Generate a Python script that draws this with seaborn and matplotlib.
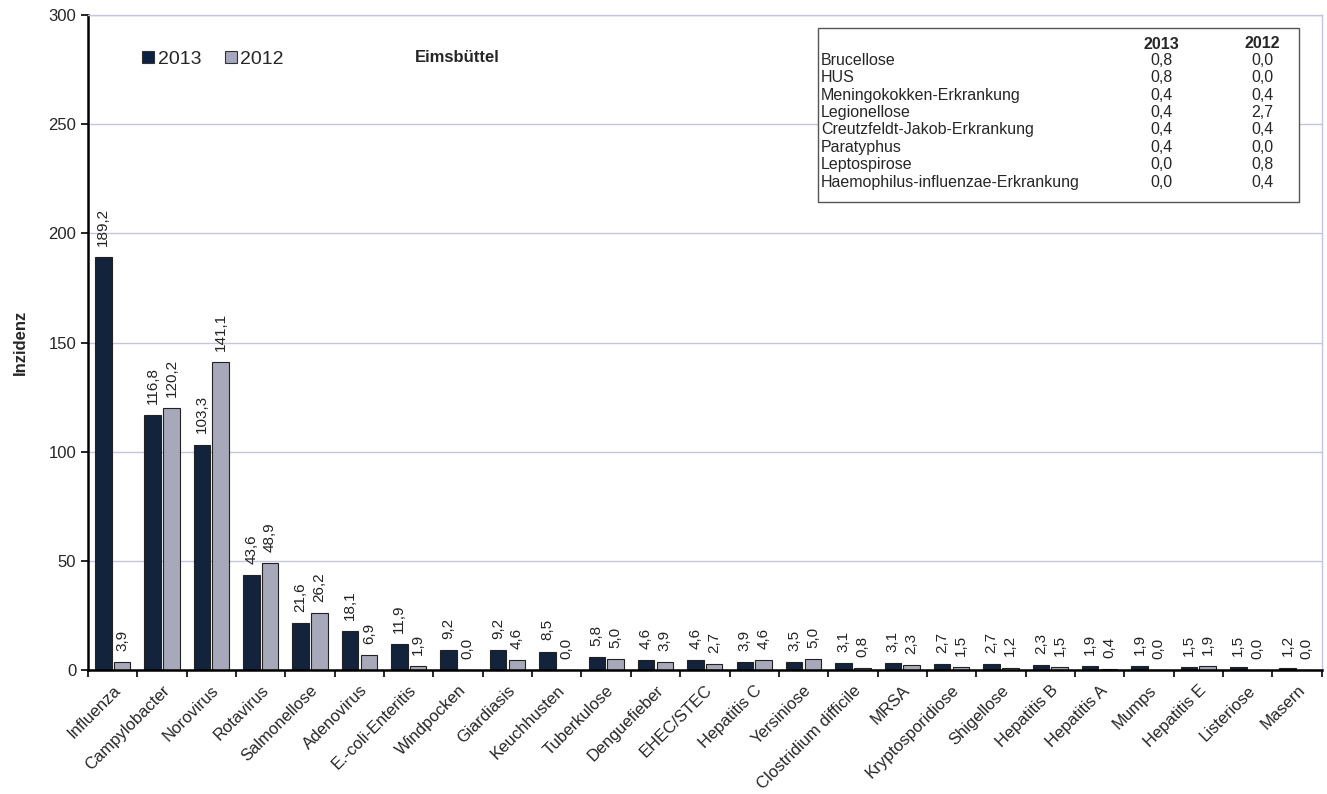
import pandas as pd
import matplotlib.pyplot as plt
import seaborn as sns
from matplotlib.patches import Rectangle
from matplotlib.ticker import FixedLocator

# Daten (Inzidenz je 100.000)
krankheiten = ['Influenza', 'Campylobacter', 'Norovirus', 'Rotavirus', 'Salmonellose',
               'Adenovirus', 'E.-coli-Enteritis', 'Windpocken', 'Giardiasis', 'Keuchhusten',
               'Tuberkulose', 'Denguefieber', 'EHEC/STEC', 'Hepatitis C', 'Yersiniose',
               'Clostridium difficile', 'MRSA', 'Kryptosporidiose', 'Shigellose', 'Hepatitis B',
               'Hepatitis A', 'Mumps', 'Hepatitis E', 'Listeriose', 'Masern']
werte_2013 = [189.2, 116.8, 103.3, 43.6, 21.6, 18.1, 11.9, 9.2, 9.2, 8.5,
              5.8, 4.6, 4.6, 3.9, 3.5, 3.1, 3.1, 2.7, 2.7, 2.3,
              1.9, 1.9, 1.5, 1.5, 1.2]
werte_2012 = [3.9, 120.2, 141.1, 48.9, 26.2, 6.9, 1.9, 0.0, 4.6, 0.0,
              5.0, 3.9, 2.7, 4.6, 5.0, 0.8, 2.3, 1.5, 1.2, 1.5,
              0.4, 0.0, 1.9, 0.0, 0.0]

# Tabelle rechts oben
tab_namen = ['Brucellose', 'HUS', 'Meningokokken-Erkrankung', 'Legionellose',
             'Creutzfeldt-Jakob-Erkrankung', 'Paratyphus', 'Leptospirose',
             'Haemophilus-influenzae-Erkrankung']
tab_2013 = [0.8, 0.8, 0.4, 0.4, 0.4, 0.4, 0.0, 0.0]
tab_2012 = [0.0, 0.0, 0.4, 2.7, 0.4, 0.0, 0.8, 0.4]

df = pd.DataFrame({
    'Krankheit': krankheiten * 2,
    'Jahr': ['2013'] * len(krankheiten) + ['2012'] * len(krankheiten),
    'Inzidenz': werte_2013 + werte_2012,
})

sns.set_style('white')
plt.rcParams['font.family'] = ['Liberation Sans', 'DejaVu Sans']

fig = plt.figure(figsize=(13.27, 7.94), dpi=100)
ax = fig.add_axes([0.0663, 0.156, 0.9297, 0.825])

farben = {'2013': '#0c2143', '2012': '#a4a7bd'}
sns.barplot(data=df, x='Krankheit', y='Inzidenz', hue='Jahr', hue_order=['2013', '2012'],
            palette=farben, width=0.76, gap=0.12, edgecolor='#222222', linewidth=0.8,
            ax=ax, legend=False)

def fmt(v):
    return f'{v:.1f}'.replace('.', ',')

for cont, werte in zip(ax.containers, [werte_2013, werte_2012]):
    ax.bar_label(cont, labels=[fmt(v) for v in werte], rotation=90, padding=8,
                 fontsize=11, color='#222222')

ax.set_ylim(0, 300)
ax.set_xlim(-0.5, len(krankheiten) - 0.5)
ax.set_yticks(range(0, 301, 50))
ax.yaxis.grid(True, color='#c3c5dd', linewidth=1)
ax.set_axisbelow(True)

ax.set_xticks(range(len(krankheiten)))
ax.set_xticklabels(krankheiten, rotation=45, ha='right', rotation_mode='anchor', fontsize=12)
ax.xaxis.set_minor_locator(FixedLocator([i + 0.5 for i in range(-1, len(krankheiten))]))
ax.tick_params(axis='x', which='major', length=0, pad=9)
ax.tick_params(axis='x', which='minor', length=5, width=1.2, direction='out', color='black', bottom=True)
ax.tick_params(axis='y', length=5, width=1.2, direction='out', color='black', left=True, labelsize=12)

for s in ['left', 'bottom']:
    ax.spines[s].set_color('black')
    ax.spines[s].set_linewidth(1.8)
for s in ['top', 'right']:
    ax.spines[s].set_color('#c3c5dd')
    ax.spines[s].set_linewidth(1)

ax.set_xlabel('')
ax.set_ylabel('Inzidenz', fontsize=12, fontweight='bold', labelpad=15)

# Legende
handles = [Rectangle((0, 0), 1, 1, facecolor=farben[j], edgecolor='#333333', linewidth=0.8)
           for j in ['2013', '2012']]
ax.legend(handles, ['2013', '2012'], loc='upper left', bbox_to_anchor=(0.03, 0.972),
          ncol=2, frameon=False, fontsize=14, handlelength=0.6, handleheight=0.6,
          handletextpad=0.2, columnspacing=1.2)
ax.text(0.265, 0.935, 'Eimsbüttel', transform=ax.transAxes, fontsize=12,
        fontweight='bold', va='center')

# Tabelle
x0, x1 = 0.592, 0.982
y_top, y_bot = 0.980, 0.714
ax.add_patch(Rectangle((x0, y_bot), x1 - x0, y_top - y_bot, transform=ax.transAxes,
                       facecolor='white', edgecolor='#555555', linewidth=1, zorder=5))
ax.text(0.870, 0.955, '2013', transform=ax.transAxes, ha='center', va='center',
        fontsize=11.5, fontweight='bold', zorder=6)
ax.text(0.952, 0.957, '2012', transform=ax.transAxes, ha='center', va='center',
        fontsize=11.5, fontweight='bold', zorder=6)
for i, (n, a, b) in enumerate(zip(tab_namen, tab_2013, tab_2012)):
    y = 0.931 - i * 0.0266
    ax.text(x0 + 0.002, y, n, transform=ax.transAxes, va='center', fontsize=11.5, zorder=6)
    ax.text(0.870, y, fmt(a), transform=ax.transAxes, ha='center', va='center', fontsize=11.5, zorder=6)
    ax.text(0.952, y, fmt(b), transform=ax.transAxes, ha='center', va='center', fontsize=11.5, zorder=6)

fig.savefig('out.png', dpi=100)
